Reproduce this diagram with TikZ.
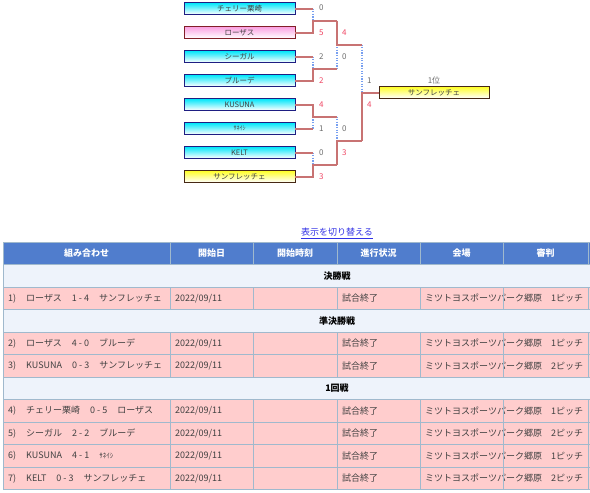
\documentclass[tikz,border=0pt]{standalone}
\usepackage{fontspec}
\setmainfont{Noto Sans CJK JP}
\definecolor{hdr}{RGB}{80,125,205}
\definecolor{secc}{RGB}{238,243,251}
\definecolor{pinkrow}{RGB}{255,205,205}
\definecolor{gridc}{RGB}{160,185,205}
\definecolor{bred}{RGB}{200,115,115}
\definecolor{bblue}{RGB}{120,160,240}
\definecolor{sred}{RGB}{240,70,100}
\definecolor{sgray}{RGB}{110,110,110}
\definecolor{txt}{RGB}{65,65,65}
\definecolor{linkc}{RGB}{50,50,230}
\definecolor{cyanT}{RGB}{0,230,250}
\definecolor{navyB}{RGB}{30,30,130}
\definecolor{pinkT}{RGB}{250,160,225}
\definecolor{pinkB}{RGB}{130,30,40}
\definecolor{yelT}{RGB}{255,255,40}
\definecolor{yelB}{RGB}{70,40,20}
\begin{document}
\begin{tikzpicture}[x=1pt,y=-1pt,
  team/.style={draw, line width=0.9pt, bottom color=white, minimum width=111pt, minimum height=11.5pt, inner sep=0pt, font=\fontsize{7.5}{8}\selectfont, text=txt},
  cybox/.style={team, draw=navyB, top color=cyanT},
  pkbox/.style={team, draw=pinkB, top color=pinkT},
  ylbox/.style={team, draw=yelB, top color=yelT},
  wl/.style={bred, line width=2pt, line join=miter},
  ll/.style={bblue, line width=1.3pt, dash pattern=on 1.3pt off 1.3pt},
  scw/.style={anchor=west, inner sep=0pt, font=\fontsize{8}{9}\selectfont, text=sred},
  scl/.style={anchor=west, inner sep=0pt, font=\fontsize{8}{9}\selectfont, text=sgray},
  cell/.style={anchor=west, inner sep=0pt, font=\fontsize{9}{10}\selectfont, text=txt},
  hcell/.style={inner sep=0pt, font=\fontsize{9}{10}\selectfont\bfseries, text=white},
  scell/.style={inner sep=0pt, font=\fontsize{9}{10}\selectfont\bfseries, text=black},
  gl/.style={gridc, line width=0.9pt}
]
\useasboundingbox (0,0) rectangle (590,493);
\fill[white] (0,0) rectangle (590,493);

% ---------- bracket ----------
\node[cybox] (t1) at (239.5,8.5) {チェリー栗崎};
\node[pkbox] (t2) at (239.5,32.5) {ローザス};
\node[cybox] (t3) at (239.5,56.5) {シーガル};
\node[cybox] (t4) at (239.5,80.5) {ブルーデ};
\node[cybox] (t5) at (239.5,104.5) {KUSUNA};
\node[cybox] (t6) at (239.5,128.5) {\fontsize{6}{7}\selectfont ｻﾈｲｼ};
\node[cybox] (t7) at (239.5,152.5) {KELT};
\node[ylbox] (t8) at (239.5,176.5) {サンフレッチェ};
\node[ylbox, minimum width=110pt] (w) at (434,92.5) {サンフレッチェ};
\node[inner sep=0pt, font=\fontsize{8}{9}\selectfont, text=sgray] (rank) at (434,80) {1位};

\coordinate (p1) at (313,8.5);
\coordinate (p2) at (313,32.5);
\coordinate (p3) at (313,56.5);
\coordinate (p4) at (313,80.5);
\coordinate (p5) at (313,104.5);
\coordinate (p6) at (313,128.5);
\coordinate (p7) at (313,152.5);
\coordinate (p8) at (313,176.5);
\coordinate (m1) at (313,20.5);
\coordinate (m2) at (313,68.5);
\coordinate (m3) at (313,116.5);
\coordinate (m4) at (313,164.5);
\coordinate (n1) at (337,20.5);
\coordinate (n2) at (337,68.5);
\coordinate (n3) at (337,116.5);
\coordinate (n4) at (337,164.5);
\coordinate (s1) at (337,44.5);
\coordinate (s2) at (337,140.5);
\coordinate (u1) at (362,44.5);
\coordinate (u2) at (362,140.5);
\coordinate (f) at (362,92.5);

\draw[ll] (p1) -- (m1);
\draw[ll] (p3) -- (m2);
\draw[ll] (p6) -- (m3);
\draw[ll] (p7) -- (m4);
\draw[ll] (s1) -- (n2);
\draw[ll] (n3) -- (s2);
\draw[ll] (u1) -- (f);

\draw[wl] (t1.east) -- (p1);
\draw[wl] (t2.east) -- (p2) -- (m1) -- (n1);
\draw[wl] (t3.east) -- (p3);
\draw[wl] (t4.east) -- (p4) -- (m2) -- (n2);
\draw[wl] (t5.east) -- (p5) -- (m3) -- (n3);
\draw[wl] (t6.east) -- (p6);
\draw[wl] (t7.east) -- (p7);
\draw[wl] (t8.east) -- (p8) -- (m4) -- (n4);
\draw[wl] (n1) -- (s1) -- (u1);
\draw[wl] (n4) -- (s2) -- (u2);
\draw[wl] (u2) -- (f) -- (w.west);

% scores
\node[scl] (a1) at (319,7.5) {0};
\node[scw] (a2) at (319,32.5) {5};
\node[scl] (a3) at (319,56.5) {2};
\node[scw] (a4) at (319,80.5) {2};
\node[scw] (a5) at (319,104.5) {4};
\node[scl] (a6) at (319,128.5) {1};
\node[scl] (a7) at (319,152.5) {0};
\node[scw] (a8) at (319,176.5) {3};
\node[scw] (b1) at (342,32.5) {4};
\node[scl] (b2) at (342,56.5) {0};
\node[scl] (b3) at (342,128.5) {0};
\node[scw] (b4) at (342,152.5) {3};
\node[scl] (c1) at (367,80.5) {1};
\node[scw] (c2) at (367,104.5) {4};

% ---------- link ----------
\node[inner sep=0pt, font=\fontsize{9}{10}\selectfont, text=linkc] (lnk) at (337,232.5) {表示を切り替える};
\draw[linkc, line width=0.7pt] ([yshift=-1pt]lnk.south west) -- ([yshift=-1pt]lnk.south east);

% ---------- table ----------
\fill[hdr] (3,242) rectangle (590,264.5);
\fill[secc] (3,264.5) rectangle (590,287);
\fill[pinkrow] (3,287) rectangle (590,309.5);
\fill[secc] (3,309.5) rectangle (590,332);
\fill[pinkrow] (3,332) rectangle (590,377);
\fill[secc] (3,377) rectangle (590,399.5);
\fill[pinkrow] (3,399.5) rectangle (590,489.5);

\node[hcell] (h1) at (86.5,253.5) {組み合わせ};
\node[hcell] (h2) at (211.5,253.5) {開始日};
\node[hcell] (h3) at (295,253.5) {開始時刻};
\node[hcell] (h4) at (378.5,253.5) {進行状況};
\node[hcell] (h5) at (461.5,253.5) {会場};
\node[hcell] (h6) at (545.5,253.5) {審判};

\node[scell] (sec1) at (337,275.75) {決勝戦};
\node[scell] (sec2) at (337,320.75) {準決勝戦};
\node[scell] (sec3) at (337,388.25) {1回戦};

\foreach \i/\y/\m/\p in {
  1/298.25/{1)\hspace{10pt}ローザス\hspace{10pt}1 - 4\hspace{10pt}サンフレッチェ}/1,
  2/343.25/{2)\hspace{10pt}ローザス\hspace{10pt}4 - 0\hspace{10pt}ブルーデ}/1,
  3/365.75/{3)\hspace{10pt}KUSUNA\hspace{10pt}0 - 3\hspace{10pt}サンフレッチェ}/2,
  4/410.75/{4)\hspace{10pt}チェリー栗崎\hspace{10pt}0 - 5\hspace{10pt}ローザス}/1,
  5/433.25/{5)\hspace{10pt}シーガル\hspace{10pt}2 - 2\hspace{10pt}ブルーデ}/2,
  6/455.75/{6)\hspace{10pt}KUSUNA\hspace{10pt}4 - 1\hspace{10pt}{\fontsize{7}{8}\selectfont ｻﾈｲｼ}}/1,
  7/478.25/{7)\hspace{10pt}KELT\hspace{10pt}0 - 3\hspace{10pt}サンフレッチェ}/2}{
  \node[cell] (mt\i) at (8,\y) {\m};
  \node[cell] (dt\i) at (175,\y) {2022/09/11};
  \node[cell] (st\i) at (342,\y) {試合終了};
  \node[cell] (vn\i) at (425,\y) {ミツトヨスポーツパーク郷原\hspace{9pt}\p ピッチ};
}

\foreach \y in {242,264.5,287,309.5,332,354.5,377,399.5,422,444.5,467,489.5}{
  \draw[gl] (3,\y) -- (590,\y);
}
\draw[gl] (3,242) -- (3,489.5);
\foreach \x in {170,253,337,420,503,588}{
  \draw[gl] (\x,242) -- (\x,264.5);
  \draw[gl] (\x,287) -- (\x,309.5);
  \draw[gl] (\x,332) -- (\x,377);
  \draw[gl] (\x,399.5) -- (\x,489.5);
}
\end{tikzpicture}
\end{document}
